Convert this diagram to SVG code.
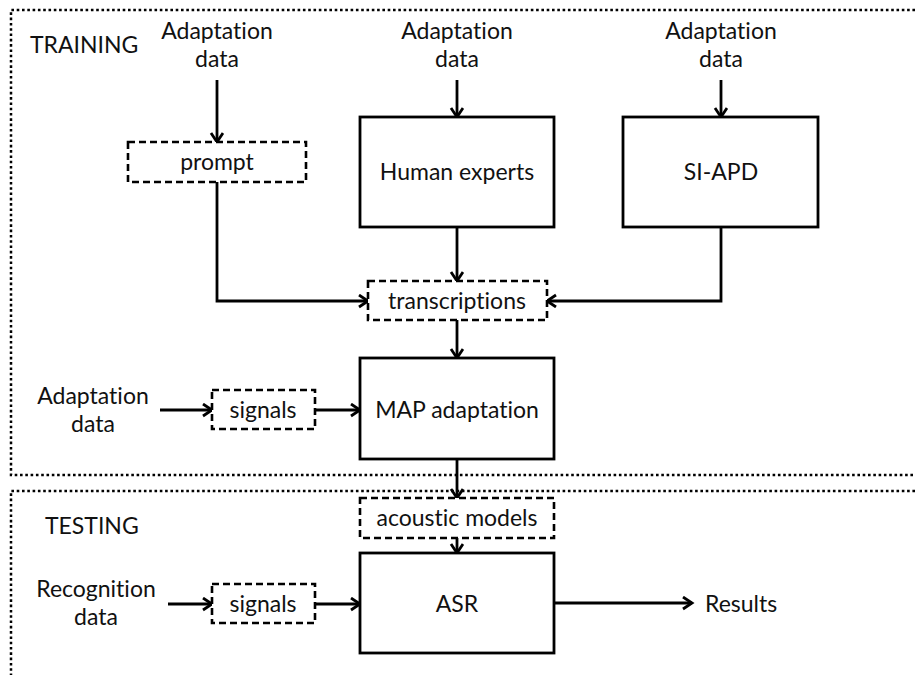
<svg xmlns="http://www.w3.org/2000/svg" width="915" height="675" viewBox="0 0 915 675">
  <style>
    text { font-family: Lato, "Open Sans", "Liberation Sans", sans-serif; font-size: 23px; fill: #111; font-variant-ligatures: none; font-feature-settings: "liga" 0, "clig" 0; }
    .c { text-anchor: middle; }
    .box { fill: #fff; stroke: #000; stroke-width: 2.8; }
    .dbox { fill: #fff; stroke: #000; stroke-width: 2.6; stroke-dasharray: 7 4; }
    .region { fill: none; stroke: #000; stroke-width: 2.5; stroke-dasharray: 2.6 2.7; }
    .wire { fill: none; stroke: #000; stroke-width: 2.8; }
    .arrow { marker-end: url(#head); }
  </style>
  <defs>
    <marker id="head" markerUnits="userSpaceOnUse" markerWidth="16" markerHeight="16" refX="11" refY="7" orient="auto">
      <path d="M2,1 L11,7 L2,13" fill="none" stroke="#000" stroke-width="2.8"/>
    </marker>
  </defs>

  <!-- stage regions -->
  <g id="training-region">
    <path class="region" d="M915,10 H11 V475 H915"/>
    <text x="30" y="53">TRAINING</text>
  </g>
  <g id="testing-region">
    <path class="region" d="M915,491 H11 V675"/>
    <text x="45" y="534">TESTING</text>
  </g>

  <!-- connectors -->
  <g id="connectors">
    <path class="wire arrow" d="M217,80 V142"/>
    <path class="wire arrow" d="M457,80 V117"/>
    <path class="wire arrow" d="M721,80 V117"/>
    <path class="wire arrow" d="M217,182 V301 H368"/>
    <path class="wire arrow" d="M457,227 V281"/>
    <path class="wire arrow" d="M721,227 V301 H547"/>
    <path class="wire arrow" d="M457,320 V358"/>
    <path class="wire arrow" d="M160,410 H212"/>
    <path class="wire arrow" d="M315,410 H360"/>
    <path class="wire arrow" d="M457,459 V498"/>
    <path class="wire arrow" d="M457,538 V553"/>
    <path class="wire arrow" d="M168,604 H212"/>
    <path class="wire arrow" d="M315,604 H360"/>
    <path class="wire arrow" d="M554,603 H692"/>
  </g>

  <!-- inputs -->
  <g id="input-adapt-1">
    <text class="c" x="217" y="39">Adaptation</text>
    <text class="c" x="217" y="67">data</text>
  </g>
  <g id="input-adapt-2">
    <text class="c" x="457" y="39">Adaptation</text>
    <text class="c" x="457" y="67">data</text>
  </g>
  <g id="input-adapt-3">
    <text class="c" x="721" y="39">Adaptation</text>
    <text class="c" x="721" y="67">data</text>
  </g>
  <g id="input-adapt-4">
    <text class="c" x="93" y="404">Adaptation</text>
    <text class="c" x="93" y="432">data</text>
  </g>
  <g id="input-recog">
    <text class="c" x="96" y="597">Recognition</text>
    <text class="c" x="96" y="625">data</text>
  </g>

  <!-- processing nodes -->
  <g id="prompt">
    <rect class="dbox" x="128" y="142" width="178" height="40"/>
    <text class="c" x="217" y="170">prompt</text>
  </g>
  <g id="human-experts">
    <rect class="box" x="360" y="117" width="194" height="110"/>
    <text class="c" x="457" y="180">Human experts</text>
  </g>
  <g id="si-apd">
    <rect class="box" x="623" y="117" width="195" height="110"/>
    <text class="c" x="721" y="180">SI-APD</text>
  </g>
  <g id="transcriptions">
    <rect class="dbox" x="368" y="281" width="179" height="39"/>
    <text class="c" x="457" y="309">transcriptions</text>
  </g>
  <g id="signals-train">
    <rect class="dbox" x="212" y="390" width="103" height="39"/>
    <text class="c" x="263" y="418">signals</text>
  </g>
  <g id="map-adaptation">
    <rect class="box" x="360" y="358" width="194" height="101"/>
    <text class="c" x="457" y="418">MAP adaptation</text>
  </g>
  <g id="acoustic-models">
    <rect class="dbox" x="360" y="498" width="194" height="40"/>
    <text class="c" x="457" y="526">acoustic models</text>
  </g>
  <g id="signals-test">
    <rect class="dbox" x="212" y="584" width="103" height="39"/>
    <text class="c" x="263" y="612">signals</text>
  </g>
  <g id="asr">
    <rect class="box" x="360" y="553" width="194" height="100"/>
    <text class="c" x="457" y="612">ASR</text>
  </g>
  <g id="results">
    <text x="705" y="612">Results</text>
  </g>
</svg>
